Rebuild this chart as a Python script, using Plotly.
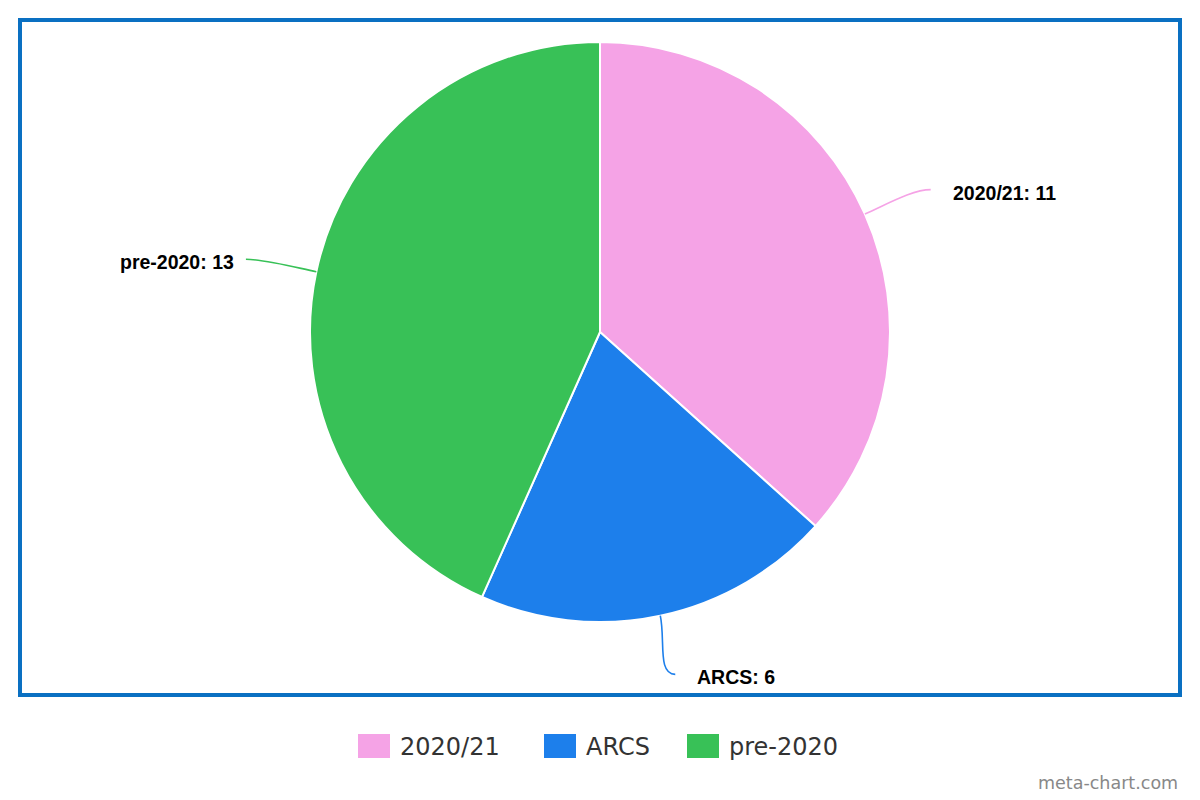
import math
import plotly.graph_objects as go

# ---- data ----
categories = ["2020/21", "ARCS", "pre-2020"]
values = [11, 6, 13]
colors = ["#F5A3E6", "#1D7FEB", "#38C157"]

W, H = 1200, 800
CX, CY, R = 600, 332, 290      # pie centre / radius in pixels
LABEL_RX, LABEL_RY = 362, 350   # connector end radii

def px(x):
    return x / W

def py(y):
    return 1 - y / H

fig = go.Figure()
fig.add_trace(go.Pie(
    labels=categories,
    values=values,
    marker=dict(colors=colors, line=dict(color="white", width=2)),
    sort=False,
    direction="clockwise",
    rotation=0,
    textinfo="none",
    hoverinfo="label+value",
    showlegend=False,
    domain=dict(x=[px(CX - R), px(CX + R)], y=[py(CY + R), py(CY - R)]),
))

shapes = []
annotations = []

# outer frame
shapes.append(dict(type="rect", xref="paper", yref="paper",
                   x0=px(20), x1=px(1180), y0=py(695), y1=py(20),
                   line=dict(color="#0A70C2", width=4), fillcolor="rgba(0,0,0,0)", layer="above"))

# connectors + labels computed from the data
total = sum(values)
start = 0.0
for cat, val, col in zip(categories, values, colors):
    frac = val / total
    mid = (start + frac / 2) * 2 * math.pi
    start += frac
    sx = CX + R * math.sin(mid)
    sy = CY - R * math.cos(mid)
    ex = CX + LABEL_RX * math.sin(mid)
    ey = CY - LABEL_RY * math.cos(mid)
    side = 1 if math.sin(mid) >= 0 else -1
    c1x = CX + (R + 25) * math.sin(mid)
    c1y = CY - (R + 25) * math.cos(mid)
    c2x = ex - side * 18
    c2y = ey
    path = (f"M {px(sx)},{py(sy)} C {px(c1x)},{py(c1y)} {px(c2x)},{py(c2y)} {px(ex)},{py(ey)}")
    shapes.append(dict(type="path", xref="paper", yref="paper", path=path,
                       line=dict(color=col, width=1.6)))
    gap = 20 if side > 0 else 10
    annotations.append(dict(
        xref="paper", yref="paper",
        x=px(ex + side * gap), y=py(ey + 3),
        text=f"<b>{cat}: {val}</b>", showarrow=False,
        xanchor="left" if side > 0 else "right", yanchor="middle",
        font=dict(family="Liberation Sans, Arial, sans-serif", size=19.5, color="#000000"),
    ))

# custom legend
legend_x = [358, 544, 687]
LEG_Y = 746
for cat, col, lx in zip(categories, colors, legend_x):
    shapes.append(dict(type="rect", xref="paper", yref="paper",
                       x0=px(lx), x1=px(lx + 32), y0=py(LEG_Y + 12), y1=py(LEG_Y - 12),
                       line=dict(width=0), fillcolor=col))
    annotations.append(dict(
        xref="paper", yref="paper", x=px(lx + 40), y=py(LEG_Y + 1),
        text=cat, showarrow=False, xanchor="left", yanchor="middle",
        font=dict(family="DejaVu Sans, Verdana, sans-serif", size=24, color="#333333"),
    ))

# watermark
annotations.append(dict(
    xref="paper", yref="paper", x=px(1180), y=py(783),
    text="meta-chart.com", showarrow=False, xanchor="right", yanchor="middle",
    font=dict(family="DejaVu Sans, Verdana, sans-serif", size=17.5, color="#888888"),
))

fig.update_layout(
    width=W, height=H,
    margin=dict(l=0, r=0, t=0, b=0),
    paper_bgcolor="white",
    plot_bgcolor="white",
    shapes=shapes,
    annotations=annotations,
)

fig.write_html("out.html", config={"displayModeBar": False},
               post_script="document.body.style.margin='0';")
